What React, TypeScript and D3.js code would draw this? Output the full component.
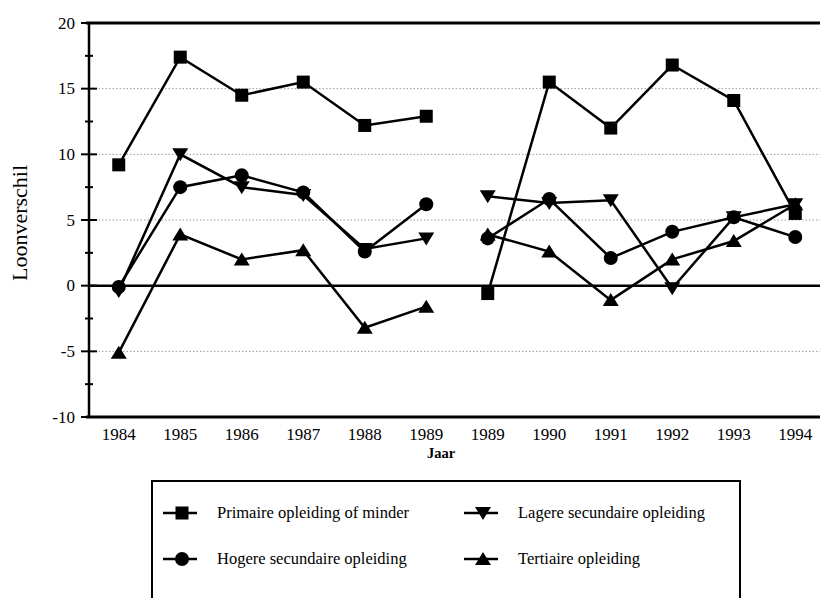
import React from "react";
import * as d3 from "d3";

const categories = ["1984", "1985", "1986", "1987", "1988", "1989", "1989", "1990", "1991", "1992", "1993", "1994"];
const primaire = [9.2, 17.4, 14.5, 15.5, 12.2, 12.9, -0.6, 15.5, 12.0, 16.8, 14.1, 5.5];
const lagere = [-0.4, 10.0, 7.5, 6.9, 2.8, 3.6, 6.8, 6.3, 6.5, -0.2, 5.2, 6.2];
const hogere = [-0.1, 7.5, 8.4, 7.1, 2.6, 6.2, 3.6, 6.6, 2.1, 4.1, 5.2, 3.7];
const tertiaire = [-5.1, 3.9, 2.0, 2.7, -3.2, -1.6, 3.9, 2.6, -1.1, 2.0, 3.4, 6.2];
const periods = [[0, 5], [6, 11]];
const yTicks = [20, 15, 10, 5, 0, -5, -10];
const gridValues = [15, 10, 5, -5];
const minorTicks = [17.5, 12.5, 7.5, 2.5, -2.5, -7.5];
const seriesNames = ["Primaire opleiding of minder", "Lagere secundaire opleiding", "Hogere secundaire opleiding", "Tertiaire opleiding"];

const FONT = "Liberation Serif, Times New Roman, Times, serif";

type Shape = "square" | "down" | "circle" | "up";

function Marker({ cx, cy, shape }: { cx: number; cy: number; shape: Shape }) {
  if (shape === "square") return <rect x={cx - 6.5} y={cy - 6.5} width={13} height={13} fill="#000" />;
  if (shape === "circle") return <circle cx={cx} cy={cy} r={7} fill="#000" />;
  if (shape === "down")
    return <path d={`M${cx - 8},${cy - 6} L${cx + 8},${cy - 6} L${cx},${cy + 7} Z`} fill="#000" />;
  return <path d={`M${cx - 8},${cy + 6} L${cx + 8},${cy + 6} L${cx},${cy - 7} Z`} fill="#000" />;
}

export default function App() {
  const left = 88;
  const right = 826;
  const top = 23;
  const bottom = 417;
  const x = d3.scaleBand<number>().domain(d3.range(categories.length)).range([left, right]).padding(0);
  const cx = (i: number) => (x(i) as number) + x.bandwidth() / 2;
  const y = d3.scaleLinear().domain([-10, 20]).range([bottom, top]);

  const series: { values: number[]; shape: Shape }[] = [
    { values: primaire, shape: "square" },
    { values: lagere, shape: "down" },
    { values: hogere, shape: "circle" },
    { values: tertiaire, shape: "up" },
  ];

  const legendItems = [
    { name: seriesNames[0], shape: "square" as Shape, lx: 163, ly: 513 },
    { name: seriesNames[1], shape: "down" as Shape, lx: 464, ly: 513 },
    { name: seriesNames[2], shape: "circle" as Shape, lx: 163, ly: 559 },
    { name: seriesNames[3], shape: "up" as Shape, lx: 464, ly: 559 },
  ];

  const ts = { fontFamily: FONT };

  return (
    <svg width={820} height={598} style={{ position: "absolute", left: 0, top: 0, background: "#fff", fontFamily: FONT }}>
      <rect x={0} y={0} width={820} height={598} fill="#fff" />
      {gridValues.map((v) => (
        <line key={v} x1={left} x2={820} y1={y(v)} y2={y(v)} stroke="#999" strokeWidth={1} strokeDasharray="1.5,2" />
      ))}
      <line x1={left} x2={820} y1={y(0)} y2={y(0)} stroke="#000" strokeWidth={2.5} />
      <line x1={left - 2} x2={820} y1={y(20)} y2={y(20)} stroke="#000" strokeWidth={3} />
      <line x1={left - 2} x2={820} y1={y(-10)} y2={y(-10)} stroke="#000" strokeWidth={3} />
      <line x1={left + 1} x2={left + 1} y1={y(20)} y2={y(-10)} stroke="#000" strokeWidth={2.5} />
      {yTicks.map((v) => (
        <g key={v}>
          <line x1={left - 7} x2={left + 9} y1={y(v)} y2={y(v)} stroke="#000" strokeWidth={2} />
          <text x={left - 13} y={y(v)} dy="0.33em" textAnchor="end" fontSize={17} style={ts}>
            {v}
          </text>
        </g>
      ))}
      {minorTicks.map((v) => (
        <line key={v} x1={left - 3} x2={left + 5} y1={y(v)} y2={y(v)} stroke="#000" strokeWidth={2} />
      ))}
      {categories.map((c, i) => (
        <text key={i} x={cx(i)} y={440} textAnchor="middle" fontSize={17} style={ts}>
          {c}
        </text>
      ))}
      <text x={441} y={458} textAnchor="middle" fontSize={14.5} fontWeight="bold" style={ts}>
        Jaar
      </text>
      <text transform={`translate(27,${223}) rotate(-90)`} textAnchor="middle" fontSize={22} style={ts}>
        Loonverschil
      </text>
      {series.map((s, si) => (
        <g key={si}>
          {periods.map(([a, b], pi) => {
            const idx = d3.range(a, b + 1);
            const path = d3
              .line<number>()
              .x((i) => cx(i))
              .y((i) => y(s.values[i]))(idx);
            return <path key={pi} d={path || ""} fill="none" stroke="#000" strokeWidth={2.5} />;
          })}
          {s.values.map((v, i) => (
            <Marker key={i} cx={cx(i)} cy={y(v)} shape={s.shape} />
          ))}
        </g>
      ))}
      <rect x={152} y={481} width={588} height={130} fill="none" stroke="#000" strokeWidth={2} />
      {legendItems.map((it, i) => (
        <g key={i}>
          <line x1={it.lx} x2={it.lx + 34} y1={it.ly} y2={it.ly} stroke="#000" strokeWidth={2.5} />
          <Marker cx={it.lx + 19} cy={it.ly} shape={it.shape} />
          <text x={it.lx + 54} y={it.ly} dy="0.3em" fontSize={16.5} style={ts}>
            {it.name}
          </text>
        </g>
      ))}
    </svg>
  );
}
